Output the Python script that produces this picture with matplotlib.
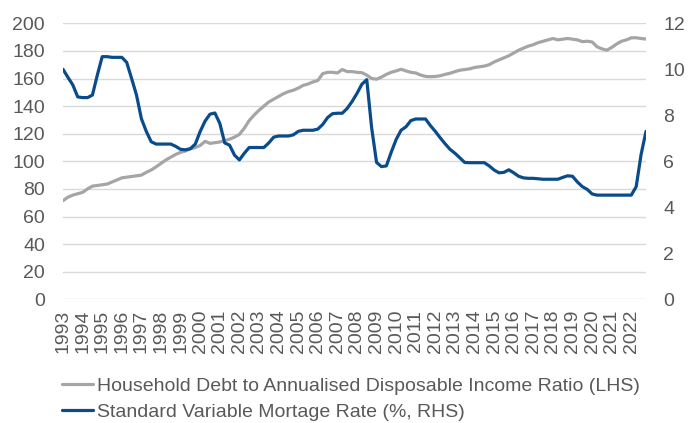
import numpy as np
import matplotlib.pyplot as plt

# quarterly observations, 1993 Q1 to 2022 Q4
years = list(range(1993, 2023))

debt_ratio = [
    71.5, 74.0, 75.5, 76.5, 77.5, 80.0, 82.0, 82.5, 83.0, 83.5,
    85.0, 86.5, 88.0, 88.5, 89.0, 89.5, 90.0, 92.0, 93.7, 96.0,
    98.5, 101.0, 103.0, 105.0, 106.5, 107.5, 109.0, 110.0, 111.5, 114.5,
    113.0, 113.5, 114.0, 115.0, 116.0, 117.5, 119.5, 124.0, 129.5, 133.5,
    137.0, 140.0, 143.0, 145.0, 147.0, 149.0, 150.5, 151.5, 153.0, 155.0,
    156.0, 157.5, 158.5, 163.5, 164.5, 164.5, 164.0, 166.5, 165.0, 165.0,
    164.5, 164.2, 162.5, 160.0, 159.5, 161.0, 163.0, 164.5, 165.5, 166.7,
    165.5, 164.5, 164.0, 162.5, 161.5, 161.3, 161.5, 162.0, 163.0, 163.8,
    165.0, 166.0, 166.5, 167.0, 168.0, 168.5, 169.0, 170.0, 172.0, 173.5,
    175.0, 176.5, 178.5, 180.5, 182.0, 183.5, 184.5, 186.0, 187.0, 188.0,
    189.0, 188.0, 188.5, 189.0, 188.5, 188.0, 186.7, 187.0, 186.5, 183.0,
    181.5, 180.5, 182.5, 185.0, 187.0, 188.0, 189.5, 189.5, 189.0, 188.6,
]

svr = [
    10.0, 9.65, 9.32, 8.8, 8.77, 8.77, 8.88, 9.75, 10.55, 10.55,
    10.52, 10.52, 10.52, 10.3, 9.6, 8.88, 7.85, 7.3, 6.85, 6.75,
    6.75, 6.75, 6.75, 6.65, 6.52, 6.5, 6.55, 6.75, 7.3, 7.75,
    8.05, 8.1, 7.65, 6.8, 6.7, 6.27, 6.06, 6.35, 6.6, 6.6,
    6.6, 6.6, 6.8, 7.05, 7.1, 7.1, 7.1, 7.15, 7.3, 7.35,
    7.35, 7.35, 7.4, 7.6, 7.9, 8.07, 8.09, 8.09, 8.3, 8.6,
    8.95, 9.35, 9.55, 7.45, 5.95, 5.77, 5.8, 6.4, 6.95, 7.35,
    7.5, 7.77, 7.84, 7.84, 7.84, 7.55, 7.3, 7.02, 6.76, 6.52,
    6.35, 6.15, 5.95, 5.94, 5.94, 5.94, 5.94, 5.8, 5.62, 5.5,
    5.52, 5.63, 5.5, 5.35, 5.28, 5.26, 5.26, 5.24, 5.22, 5.22,
    5.22, 5.22, 5.3, 5.37, 5.35, 5.1, 4.9, 4.78, 4.58, 4.53,
    4.53, 4.53, 4.53, 4.53, 4.53, 4.53, 4.53, 4.9, 6.3, 7.3,
]

label_debt = "Household Debt to Annualised Disposable Income Ratio (LHS)"
label_svr = "Standard Variable Mortage Rate (%, RHS)"

plt.rcParams["font.family"] = ["Liberation Sans", "DejaVu Sans"]
text_col = "#595959"

fig = plt.figure(figsize=(6.98, 4.23), dpi=100)
ax = fig.add_axes([0.0903, 0.2924, 0.8352, 0.6525])
ax2 = ax.twinx()

x = np.arange(len(debt_ratio))
l1, = ax.plot(x, debt_ratio, color="#A5A5A5", lw=2.3, solid_capstyle="round")
l2, = ax2.plot(x, svr, color="#0A4C8B", lw=2.3, solid_capstyle="round")

ax.set_xlim(0, len(x) - 1)
ax.set_ylim(0, 200)
ax2.set_ylim(0, 12)
ax.set_yticks(range(0, 201, 20))
ax2.set_yticks(range(0, 13, 2))
ax.set_xticks(np.arange(len(years)) * 4)
ax.set_xticklabels([str(y) for y in years], rotation=90)

ax.grid(axis="y", color="#D9D9D9", lw=1)
ax.set_axisbelow(True)
for a in (ax, ax2):
    for s in a.spines.values():
        s.set_visible(False)
    a.tick_params(length=0, labelsize=14, colors=text_col)
ax.tick_params(axis="y", pad=13)
ax2.tick_params(axis="y", pad=12.5)
ax.tick_params(axis="x", pad=7.5)

fig.legend([l1, l2], [label_debt, label_svr], loc="upper left",
           bbox_to_anchor=(0.089, 0.108), frameon=False, fontsize=14,
           labelcolor=text_col, handlelength=1.6, handletextpad=0.2,
           labelspacing=0.45, borderaxespad=0, borderpad=0)

fig.savefig("out.png", dpi=100)
